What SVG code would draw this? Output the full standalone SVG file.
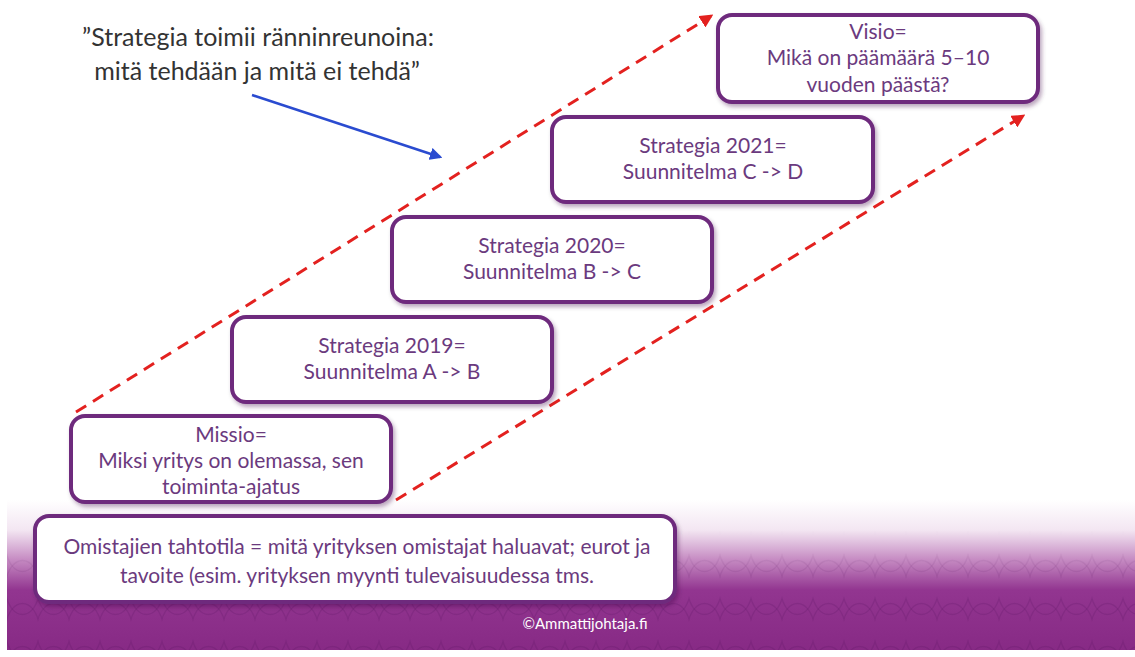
<svg xmlns="http://www.w3.org/2000/svg" width="1135" height="657" viewBox="0 0 1135 657">
<defs>
<linearGradient id="bg" gradientUnits="userSpaceOnUse" x1="0" y1="500" x2="0" y2="650">
<stop offset="0" stop-color="#ffffff"/>
<stop offset="0.2" stop-color="#f3e6f2"/>
<stop offset="0.4" stop-color="#c58ac2"/>
<stop offset="0.6" stop-color="#923590"/>
<stop offset="1" stop-color="#872a85"/>
</linearGradient>
<linearGradient id="fade" gradientUnits="userSpaceOnUse" x1="0" y1="530" x2="0" y2="600">
<stop offset="0" stop-color="#000"/>
<stop offset="1" stop-color="#fff"/>
</linearGradient>
<mask id="m"><rect x="7" y="520" width="1128" height="130" fill="url(#fade)"/></mask>
<pattern id="lens" x="7" y="523" width="31" height="43" patternUnits="userSpaceOnUse">
<ellipse cx="15.5" cy="21.5" rx="17" ry="27" fill="none" stroke="#4e0c58" stroke-opacity="0.16" stroke-width="1.3"/>
<ellipse cx="15.5" cy="-21.5" rx="17" ry="27" fill="none" stroke="#4e0c58" stroke-opacity="0.16" stroke-width="1.3"/>
<ellipse cx="15.5" cy="64.5" rx="17" ry="27" fill="none" stroke="#4e0c58" stroke-opacity="0.16" stroke-width="1.3"/>
</pattern>
<filter id="sh" x="-5%" y="-10%" width="112%" height="130%">
<feDropShadow dx="2" dy="3" stdDeviation="2" flood-color="#3a1040" flood-opacity="0.35"/>
</filter>
<marker id="ar" viewBox="0 0 10 10" refX="8" refY="5" markerWidth="4.5" markerHeight="4.5" orient="auto" markerUnits="strokeWidth">
<path d="M0,0 L10,5 L0,10 z" fill="#e3211f"/>
</marker>
<marker id="ab" viewBox="0 0 10 10" refX="8" refY="5" markerWidth="5" markerHeight="5" orient="auto" markerUnits="strokeWidth">
<path d="M0,0 L10,5 L0,10 z" fill="#2a4bd0"/>
</marker>
<style>
.box{fill:#fff;stroke:#6e2b7d;stroke-width:4;filter:url(#sh)}
.t{font-family:Lato,"Open Sans","Liberation Sans",sans-serif;font-size:21px;fill:#6b3a7e;text-anchor:middle}
.q{font-family:Lato,"Open Sans","Liberation Sans",sans-serif;font-size:25px;fill:#333;text-anchor:middle}
.dash{fill:none;stroke:#e3211f;stroke-width:3;stroke-dasharray:12 8}
</style>
</defs>
<rect width="1135" height="657" fill="#fff"/>
<rect x="7" y="500" width="1128" height="150" fill="url(#bg)"/>
<rect x="7" y="520" width="1128" height="130" fill="url(#lens)" mask="url(#m)"/>

<g id="quote">
<text class="q" x="258" y="46">”Strategia toimii ränninreunoina:</text>
<text class="q" x="257" y="80">mitä tehdään ja mitä ei tehdä”</text>
</g>

<g id="connectors">
<line x1="252" y1="95" x2="440" y2="157" stroke="#2a4bd0" stroke-width="2.5" marker-end="url(#ab)"/>
<line class="dash" x1="76" y1="412" x2="711" y2="16" marker-end="url(#ar)"/>
<line class="dash" x1="396" y1="500" x2="1023" y2="116" marker-end="url(#ar)"/>
</g>

<g id="omistajien">
<rect class="box" x="35" y="516" width="640" height="86" rx="14"/>
<text class="t" x="357" y="554">Omistajien tahtotila = mitä yrityksen omistajat haluavat; eurot ja</text>
<text class="t" x="357" y="583">tavoite (esim. yrityksen myynti tulevaisuudessa tms.</text>
</g>

<g id="missio">
<rect class="box" x="71" y="416" width="320" height="86" rx="14"/>
<text class="t" x="231" y="442">Missio=</text>
<text class="t" x="231" y="468">Miksi yritys on olemassa, sen</text>
<text class="t" x="231" y="494">toiminta-ajatus</text>
</g>

<g id="strategia2019">
<rect class="box" x="232" y="317" width="320" height="85" rx="14"/>
<text class="t" x="392" y="353">Strategia 2019=</text>
<text class="t" x="392" y="379">Suunnitelma A -&gt; B</text>
</g>

<g id="strategia2020">
<rect class="box" x="392" y="217" width="320" height="85" rx="14"/>
<text class="t" x="552" y="253">Strategia 2020=</text>
<text class="t" x="552" y="279">Suunnitelma B -&gt; C</text>
</g>

<g id="strategia2021">
<rect class="box" x="552" y="117" width="321" height="85" rx="14"/>
<text class="t" x="713" y="153">Strategia 2021=</text>
<text class="t" x="713" y="179">Suunnitelma C -&gt; D</text>
</g>

<g id="visio">
<rect class="box" x="718" y="15" width="320" height="87" rx="14"/>
<text class="t" x="878" y="39">Visio=</text>
<text class="t" x="878" y="65">Mikä on päämäärä 5–10</text>
<text class="t" x="878" y="92">vuoden päästä?</text>
</g>

<text x="585" y="629" font-family="Lato,'Open Sans','Liberation Sans',sans-serif" font-size="15" fill="#ffffff" text-anchor="middle">©Ammattijohtaja.fi</text>
</svg>
